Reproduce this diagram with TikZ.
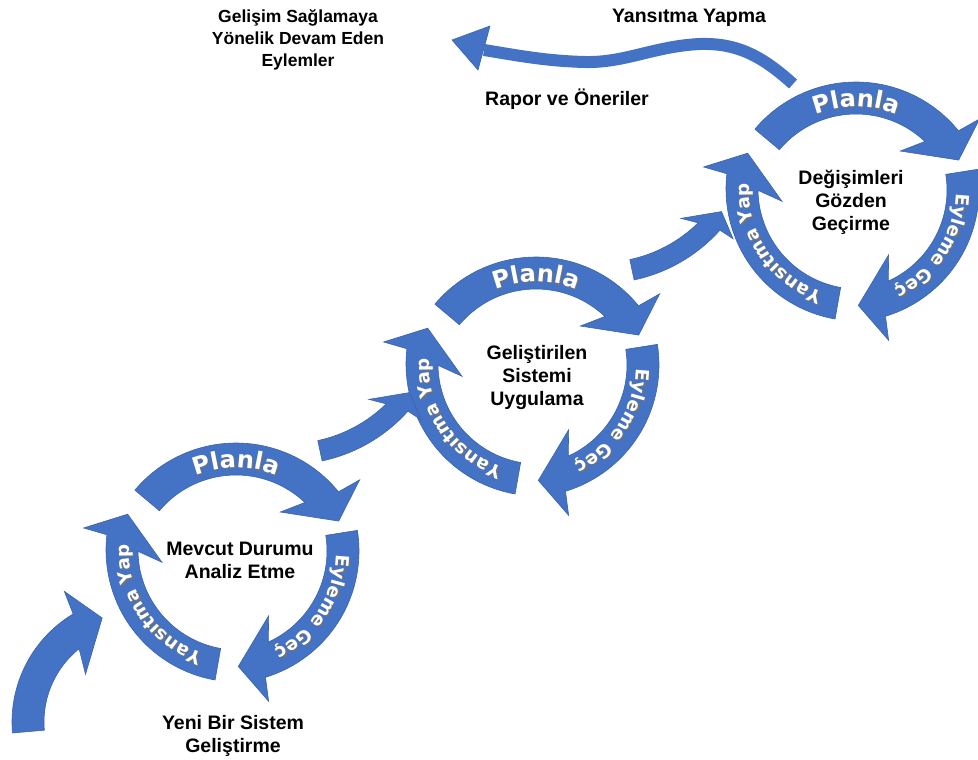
\documentclass[tikz,border=0pt]{standalone}
\usepackage{fontspec}
\setmainfont{Liberation Sans}
\newfontfamily\arcfont{DejaVu Sans}
\usetikzlibrary{decorations.text}
\definecolor{arrowblue}{HTML}{4472C4}
\definecolor{arrowedge}{HTML}{3A63AE}
\newcommand\planfont{\arcfont\bfseries\fontsize{24}{24}\selectfont}
\newcommand\bandfont{\arcfont\bfseries\fontsize{18.3}{18.3}\selectfont}
\tikzset{
  blockarrow/.style={fill=arrowblue, draw=arrowedge, line width=0.6, line join=miter},
  caption/.style={font=\bfseries\fontsize{19.5}{23}\selectfont, align=center, text=black, inner sep=0pt},
  smallcaption/.style={caption, font=\bfseries\fontsize{17.5}{22}\selectfont},
}
% curved block arrow:
% #1,#2 centre, #3 mid radius, #4 start angle, #5 tip angle, #6 size factor, #7 sense (1 cw, -1 ccw)
\newcommand{\bendarrow}[7]{%
  \begin{scope}[shift={(#1,#2)}]
    \pgfmathsetmacro\bR{#3}
    \pgfmathsetmacro\bRo{#3+16*#6}
    \pgfmathsetmacro\bRi{#3-16*#6}
    \pgfmathsetmacro\bRob{#3+40*#6}
    \pgfmathsetmacro\bRib{#3-39*#6}
    \pgfmathsetmacro\bAos{#5-#7*23*#6/#3*57.2958}
    \pgfmathsetmacro\bAob{#5-#7*20*#6/#3*57.2958}
    \pgfmathsetmacro\bAib{#5-#7*55*#6/#3*57.2958}
    \pgfmathsetmacro\bAis{#5-#7*38*#6/#3*57.2958}
    \filldraw[blockarrow] plot[domain=#4:\bAos,samples=50] (\x:\bRo)
      -- (\bAob:\bRob) -- (#5:\bR) -- (\bAib:\bRib) -- (\bAis:\bRi)
      -- plot[domain=\bAis:#4,samples=50] (\x:\bRi) -- cycle;
  \end{scope}}
% white lettering with a soft shadow along a circle:
% #1,#2 centre, #3 baseline radius, #4 middle angle, #5 font, #6 text
\newcommand{\arclettering}[6]{%
  \pgfmathsetmacro\tA{#4-55}\pgfmathsetmacro\tB{#4+55}%
  \begin{scope}[shift={(#1+1.3,#2+1.3)}]
    \path[decorate,decoration={text along path,text align=center,
      text={|#5\color{black!55}|#6}}] plot[domain=\tA:\tB,samples=90] (\x:#3);
  \end{scope}
  \begin{scope}[shift={(#1,#2)}]
    \path[decorate,decoration={text along path,text align=center,
      text={|#5\color{white}|#6}}] plot[domain=\tA:\tB,samples=90] (\x:#3);
  \end{scope}}
% one plan-act-reflect ring
\newcommand{\cyclearrows}{%
  \bendarrow{238}{550}{116}{100}{198}{1}{1}
  \bendarrow{227}{551}{116}{-9}{84.4}{1}{1}
  \bendarrow{236}{575}{116}{-140}{-27.7}{1}{1}
  \arclettering{236}{575}{107.5}{-90}{\planfont}{Planla}
  \arclettering{227}{551}{109}{33}{\bandfont}{Eyleme Geç}
  \arclettering{238}{550}{109}{146}{\bandfont}{Yansıtma Yap}
}
\begin{document}
\begin{tikzpicture}[x=1pt,y=-1pt]
  \useasboundingbox (0,0) rectangle (978,760);
  \clip (0,0) rectangle (978,760);

  % rings
  \cyclearrows
  \begin{scope}[shift={(300,-186)}]\cyclearrows\end{scope}
  \begin{scope}[shift={(620,-361)}]\cyclearrows\end{scope}

  % links between the rings
  \bendarrow{138}{722}{110}{175}{251}{1}{1}
  \bendarrow{289}{305}{149}{78}{36}{0.65}{-1}
  \bendarrow{601}{124}{149}{78}{36}{0.65}{-1}

  % wavy return arrow
  \coordinate (wtail) at (793,84);
  \coordinate (wbase) at (484,50);
  \coordinate (wtip) at (452,40);
  \coordinate (wbarbA) at (490,26);
  \coordinate (wbarbB) at (478,70);
  \draw[arrowblue, line width=12, line cap=butt] (wtail)
     .. controls (760,54) and (735,43) .. (700,44)
     .. controls (655,46) and (625,63) .. (585,62)
     .. controls (545,61) and (515,55) .. (wbase);
  \filldraw[blockarrow] (wtip) -- (wbarbA) -- (wbarbB) -- cycle;

  % captions
  \node[caption] (c1) at (240,560) {Mevcut Durumu\\Analiz Etme};
  \node[caption] (c2) at (537,377) {Geliştirilen\\Sistemi\\Uygulama};
  \node[caption] (c3) at (851,202) {Değişimleri\\Gözden\\Geçirme};
  \node[caption] (start) at (233,736) {Yeni Bir Sistem\\Geliştirme};
  \node[smallcaption] (goal) at (298,40) {Gelişim Sağlamaya\\Yönelik Devam Eden\\Eylemler};
  \node[caption] (refl) at (689,18) {Yansıtma Yapma};
  \node[caption] (report) at (567,99) {Rapor ve Öneriler};
\end{tikzpicture}
\end{document}
